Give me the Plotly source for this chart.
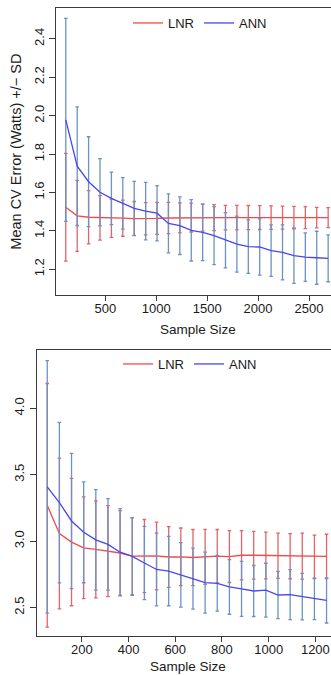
import plotly.graph_objects as go

# ---------------- data ----------------
n_top = [112, 224, 336, 448, 560, 672, 784, 896, 1008, 1120, 1232, 1344,
         1456, 1568, 1680, 1792, 1904, 2016, 2128, 2240, 2352, 2464, 2576, 2688]
lnr_top_mean = [1.523, 1.478, 1.471, 1.468, 1.466, 1.466, 1.464, 1.463, 1.465, 1.467, 1.468, 1.469,
                1.469, 1.469, 1.469, 1.469, 1.469, 1.469, 1.469, 1.469, 1.469, 1.469, 1.469, 1.469]
lnr_top_sd = [0.281, 0.185, 0.139, 0.116, 0.100, 0.094, 0.089, 0.084, 0.083, 0.081, 0.078, 0.075,
              0.070, 0.068, 0.064, 0.064, 0.063, 0.062, 0.061, 0.060, 0.058, 0.057, 0.053, 0.052]
ann_top_mean = [1.978, 1.737, 1.656, 1.601, 1.569, 1.543, 1.517, 1.503, 1.492, 1.439, 1.427, 1.403,
                1.392, 1.375, 1.351, 1.331, 1.318, 1.316, 1.297, 1.288, 1.271, 1.263, 1.260, 1.257]
ann_top_sd = [0.529, 0.309, 0.234, 0.175, 0.137, 0.134, 0.141, 0.150, 0.144, 0.154, 0.150, 0.160,
              0.147, 0.151, 0.144, 0.146, 0.139, 0.146, 0.134, 0.143, 0.144, 0.126, 0.138, 0.122]

n_bot = [52, 104, 156, 208, 260, 312, 364, 416, 468, 520, 572, 624,
         676, 728, 780, 832, 884, 936, 988, 1040, 1092, 1144, 1196, 1248]
lnr_bot_mean = [3.270, 3.058, 2.993, 2.950, 2.938, 2.925, 2.911, 2.887, 2.888, 2.889, 2.881, 2.882,
                2.877, 2.882, 2.887, 2.884, 2.894, 2.894, 2.892, 2.890, 2.887, 2.887, 2.884, 2.885]
lnr_bot_sd = [0.917, 0.567, 0.479, 0.383, 0.365, 0.342, 0.319, 0.290, 0.275, 0.255, 0.229, 0.217,
              0.211, 0.207, 0.201, 0.195, 0.185, 0.180, 0.176, 0.170, 0.170, 0.173, 0.162, 0.167]
ann_bot_mean = [3.409, 3.290, 3.152, 3.067, 3.010, 2.976, 2.917, 2.885, 2.836, 2.787, 2.775, 2.746,
                2.718, 2.688, 2.683, 2.656, 2.641, 2.625, 2.631, 2.595, 2.598, 2.583, 2.564, 2.554]
ann_bot_sd = [0.950, 0.604, 0.509, 0.380, 0.378, 0.345, 0.328, 0.293, 0.276, 0.274, 0.261, 0.243,
              0.230, 0.229, 0.210, 0.206, 0.207, 0.192, 0.203, 0.178, 0.188, 0.175, 0.155, 0.170]

series_names = ["LNR", "ANN"]
x_title = "Sample Size"
y_title = "Mean CV Error (Watts) +/\u2212 SD"

# ---------------- styling ----------------
FONT = "Liberation Sans, Arial, Helvetica, sans-serif"
LNR_LINE = "#F24A4A"
ANN_LINE = "#4747F0"
LNR_ERR = "#E2636A"
ANN_ERR = "#6B92C2"
AX = "#3a3a3a"
TXT = "#1a1a1a"

W, H = 331, 675


def trace(x, y, sd, name, line_c, err_c, xa, ya, leg):
    return go.Scatter(
        x=x, y=y, mode="lines", name=name,
        line=dict(color=line_c, width=1.3),
        error_y=dict(type="data", array=sd, visible=True,
                     color=err_c, thickness=1.3, width=1.8),
        xaxis=xa, yaxis=ya, legend=leg, hoverinfo="skip",
    )


fig = go.Figure()
fig.add_trace(trace(n_top, lnr_top_mean, lnr_top_sd, series_names[0], LNR_LINE, LNR_ERR, "x", "y", "legend"))
fig.add_trace(trace(n_top, ann_top_mean, ann_top_sd, series_names[1], ANN_LINE, ANN_ERR, "x", "y", "legend"))
fig.add_trace(trace(n_bot, lnr_bot_mean, lnr_bot_sd, series_names[0], LNR_LINE, LNR_ERR, "x2", "y2", "legend2"))
fig.add_trace(trace(n_bot, ann_bot_mean, ann_bot_sd, series_names[1], ANN_LINE, ANN_ERR, "x2", "y2", "legend2"))

axis_common = dict(
    showline=True, linecolor=AX, linewidth=1,
    ticks="outside", tickwidth=1, tickcolor=AX,
    showgrid=False, zeroline=False,
    tickfont=dict(family=FONT, size=13, color=TXT),
)

fig.update_layout(
    width=W, height=H,
    margin=dict(l=0, r=0, t=0, b=0),
    paper_bgcolor="white", plot_bgcolor="white",
    font=dict(family=FONT, color=TXT),
    xaxis=dict(domain=[56 / W, 1], range=[16, 2716], anchor="y", mirror=True, ticklen=5,
               ticklabelstandoff=-4,
               tickvals=[500, 1000, 1500, 2000, 2500],
               **axis_common),
    yaxis=dict(domain=[1 - 295 / H, 1 - 8.3 / H], range=[1.066, 2.559], anchor="x", ticklen=6,
               tickvals=[1.2, 1.4, 1.6, 1.8, 2.0, 2.2, 2.4], tickformat=".1f", tickangle=-90,
               title=dict(text=y_title, font=dict(size=14.5), standoff=6),
               **axis_common),
    xaxis2=dict(domain=[36.5 / W, 1], range=[6, 1267], anchor="y2", mirror=True, ticklen=5,
                ticklabelstandoff=-4,
                tickvals=[200, 400, 600, 800, 1000, 1200],
                **axis_common),
    yaxis2=dict(domain=[1 - 636.3 / H, 1 - 350 / H], range=[2.284, 4.439], anchor="x2", ticklen=6,
                tickvals=[2.5, 3.0, 3.5, 4.0], tickformat=".1f", tickangle=-90,
                **axis_common),
    legend=dict(orientation="h", x=200 / W, y=1 - 23 / H, xanchor="center", yanchor="middle",
                bgcolor="rgba(0,0,0,0)", borderwidth=0, itemwidth=30,
                font=dict(family=FONT, size=13, color=TXT)),
    legend2=dict(orientation="h", x=190 / W, y=1 - 364 / H, xanchor="center", yanchor="middle",
                 bgcolor="rgba(0,0,0,0)", borderwidth=0, itemwidth=30,
                 font=dict(family=FONT, size=13, color=TXT)),
    annotations=[
        dict(text=x_title, xref="paper", yref="paper", x=198 / W,
             y=1 - 329 / H, xanchor="center", yanchor="middle", showarrow=False,
             font=dict(family=FONT, size=13.5, color=TXT)),
        dict(text=x_title, xref="paper", yref="paper", x=188 / W,
             y=1 - 666.5 / H, xanchor="center", yanchor="middle", showarrow=False,
             font=dict(family=FONT, size=13.5, color=TXT)),
    ],
)

fig.write_html(
    "out.html",
    config={"displayModeBar": False},
    post_script="document.body.style.margin='0';document.body.style.padding='0';"
                "document.body.style.overflow='hidden';",
)
